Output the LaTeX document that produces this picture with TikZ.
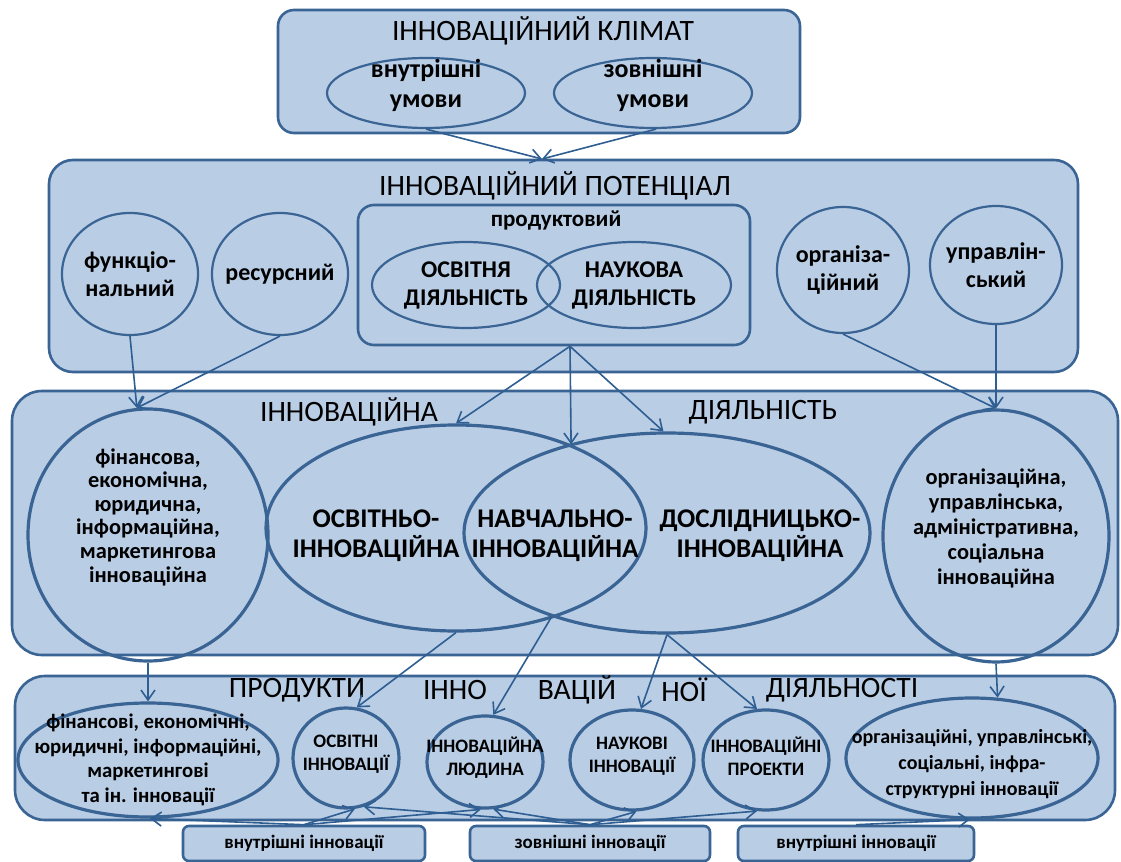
\documentclass[tikz,border=0pt]{standalone}
\usepackage{fontspec}
\setmainfont{Carlito}
\usetikzlibrary{shapes.geometric,arrows.meta}
\definecolor{boxFill}{HTML}{B9CDE5}
\definecolor{lineBlue}{HTML}{3A6494}
\definecolor{arrowBlue}{HTML}{2E5E92}

\begin{document}
\begin{tikzpicture}
[x=0.5pt,y=-0.5pt,
  boxDecorate/.style={draw=lineBlue,fill=boxFill,line width=1.3pt,rounded corners=#1,inner sep=0pt},%
  boxDecorate/.default=8pt,%
  ovalDecorate/.style={shape=ellipse,draw=lineBlue,line width=1.1pt,inner sep=0pt},%
  thickOval/.style={ovalDecorate,line width=1.6pt},%
  textDecorate/.style={align=center,inner sep=0pt},%
  titleDecorate/.style={inner sep=0pt,font={\fontsize{14.8}{16}\selectfont}},%
  bigTitle/.style={inner sep=0pt,font={\fontsize{14.8}{17}\selectfont}},%
  arrowDecorate/.style={-{Straight Barb[length=5pt,width=7pt]},draw=arrowBlue,line width=0.8pt}]
%%
%% page and margins
\useasboundingbox[fill=white] (0,0) rectangle (1121,862);
%%
%% innovation climate
\node (climate) at (539,71.5) [boxDecorate, minimum width=261pt, minimum height=61.5pt] {};
\node (climTitle) at (543,31) [titleDecorate] {ІННОВАЦІЙНИЙ КЛІМАТ};
\foreach \nodename/\x/\txt in {climIn/426/{внутрішні\\умови}, climOut/653/{зовнішні\\умови}}
{
  \node (\nodename) at (\x,93) [ovalDecorate, minimum width=99pt, minimum height=35pt,
    label={[textDecorate,yshift=4pt,font={\bfseries\fontsize{13}{15}\selectfont}]center:\txt}] {};
}
\coordinate (potTop) at (542,159);
%%
%% innovation potential
\node (potential) at (563.5,266) [boxDecorate=12pt, minimum width=514.5pt, minimum height=106pt] {};
\node (potTitle) at (555,186) [titleDecorate] {ІННОВАЦІЙНИЙ ПОТЕНЦІАЛ};
\node (prodBox) at (554,275) [boxDecorate, minimum width=196pt, minimum height=70pt] {};
\node (prodTitle) at (556,221) [font={\bfseries\fontsize{11.5}{13}\selectfont}] {продуктовий};
\coordinate (prodOut) at ([xshift=8pt]prodBox.south);
\foreach \nodename/\x/\y/\w/\h/\txt in {
  potFunc/130/274/68/61/{функціо-\\нальний},
  potRes/280/274/68/61/{ресурсний},
  prodEdu/466/285/94/43/{ОСВІТНЯ\\ДІЯЛЬНІСТЬ},
  prodSci/634/285/97/43/{НАУКОВА\\ДІЯЛЬНІСТЬ},
  potOrg/843/270/66/63/{організа-\\ційний},
  potMan/996/265/66/59/{управлін-\\ський}}
{
  \node (\nodename) at (\x,\y) [ovalDecorate, minimum width=\w pt, minimum height=\h pt,
    label={[textDecorate,font={\bfseries\fontsize{12}{14}\selectfont}]center:\txt}] {};
}
%%
%% innovation activity
\node (activity) at (565,523) [boxDecorate=15pt, minimum width=553pt, minimum height=132pt] {};
\node (actTitleA) at (349,412) [titleDecorate] {ІННОВАЦІЙНА};
\node (actTitleB) at (763,412) [titleDecorate] {ДІЯЛЬНІСТЬ};
\node (actFin) at (148,535) [thickOval, minimum width=120pt, minimum height=126pt,
  label={[textDecorate,yshift=9pt,font={\bfseries\fontsize{11.2}{11.8}\selectfont}]center:фінансова,\\економічна,\\юридична,\\інформаційна,\\маркетингова\\інноваційна}] {};
\node (actEdu) at (456,528) [thickOval, minimum width=190pt, minimum height=103pt] {};
\node (actStudy) at (667,533) [thickOval, minimum width=203pt, minimum height=100pt] {};
\node (actOrg) at (996,536) [thickOval, minimum width=113pt, minimum height=126pt,
  label={[textDecorate,yshift=4pt,font={\bfseries\fontsize{11.2}{12.5}\selectfont}]center:організаційна,\\управлінська,\\адміністративна,\\соціальна\\інноваційна}] {};
\foreach \nodename/\x/\txt in {
  txtEdu/376/{ОСВІТНЬО-\\ІННОВАЦІЙНА},
  txtLearn/555/{НАВЧАЛЬНО-\\ІННОВАЦІЙНА},
  txtStudy/760/{ДОСЛІДНИЦЬКО-\\ІННОВАЦІЙНА}}
{
  \node (\nodename) at (\x,536) [textDecorate,
    font={\bfseries\fontsize{13.5}{15}\selectfont}] {\txt};
}
%%
%% products of innovation activity
\node (products) at (565,748) [boxDecorate=15pt, minimum width=550pt, minimum height=72pt] {};
\foreach \nodename/\x/\word in {
  prodT1/297/ПРОДУКТИ, prodT2/455/ІННО, prodT3/577/ВАЦІЙ, prodT4/684/НОЇ, prodT5/842/ДІЯЛЬНОСТІ}
{
  \node (\nodename) at (\x,690) [bigTitle] {\word};
}
\node (prFin) at (148,760) [thickOval, minimum width=130pt, minimum height=57pt,
  label={[textDecorate,font={\bfseries\fontsize{10.4}{12.3}\selectfont}]center:фінансові, економічні,\\юридичні, інформаційні,\\маркетингові\\та ін. інновації}] {};
\node (prOrg) at (972,758) [thickOval, minimum width=126pt, minimum height=60pt,
  label={[textDecorate,yshift=-3pt,font={\bfseries\fontsize{10}{13}\selectfont}]center:організаційні, управлінські,\\соціальні, інфра-\\структурні інновації}] {};
\foreach \nodename/\x/\y/\w/\h/\txt in {
  prEdu/346/758/53/50/{ОСВІТНІ\\ІННОВАЦІЇ},
  prMan/485/762/58/46/{ІННОВАЦІЙНА\\ЛЮДИНА},
  prSci/632/760/62/50/{НАУКОВІ\\ІННОВАЦІЇ},
  prProj/766/760/63/50/{ІННОВАЦІЙНІ\\ПРОЕКТИ}}
{
  \node (\nodename) at (\x,\y) [thickOval, minimum width=\w pt, minimum height=\h pt,
    label={[textDecorate,yshift=2pt,font={\bfseries\fontsize{9.5}{11.5}\selectfont}]center:\txt}] {};
}
%%
%% internal and external innovations
\foreach \nodename/\x/\w/\txt in {
  botIn1/304/121/{внутрішні інновації},
  botOut/590/120/{зовнішні інновації},
  botIn2/856/118/{внутрішні інновації}}
{
  \node (\nodename) at (\x,843.5) [boxDecorate=3pt, minimum width=\w pt, minimum height=17.5pt,
    font={\bfseries\fontsize{9.5}{11}\selectfont}] {\txt};
}
%%
%% arrows
\path
\foreach \startnode/\endnode in {
  climIn.south/potTop, climOut.-85/potTop,
  potFunc.south/actFin.95, potRes.south/actFin.95,
  prodOut/actEdu.north, prodOut/actEdu.36, prodOut/actStudy.92,
  potOrg.south/actOrg.north, potMan.south/actOrg.north,
  actFin.south/prFin.north, actEdu.south/prEdu.78, actStudy.216/prMan.80,
  actStudy.-90/prSci.80, actStudy.-90/prProj.100, actOrg.south/prOrg.67,
  botIn1.north/prFin.-88, botIn1.north/prEdu.-80, botIn1.north/prMan.-95,
  botOut.north/prEdu.-70, botOut.north/prMan.-80, botOut.north/prSci.-85,
  botOut.north/prProj.-100, botIn2.north/prOrg.-92}
{
  (\startnode) edge[arrowDecorate] (\endnode)
};
\end{tikzpicture}
\end{document}
